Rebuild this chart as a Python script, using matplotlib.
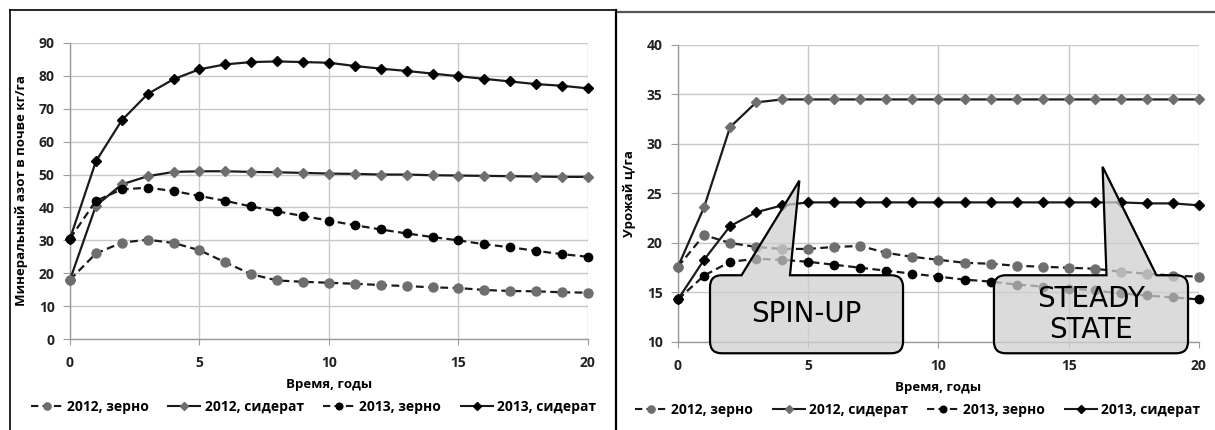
import matplotlib
matplotlib.use('Agg')
import matplotlib.pyplot as plt
from matplotlib.path import Path
from matplotlib.patches import PathPatch
from matplotlib.lines import Line2D

plt.rcParams['font.family'] = ['Open Sans', 'DejaVu Sans']

years = list(range(21))

# left panel: mineral nitrogen in soil, kg/ha
n_2012_grain = [18, 26, 29.3, 30.2, 29.2, 27, 23.3, 19.7, 17.8, 17.4, 17.1,
                16.8, 16.4, 16.1, 15.7, 15.5, 14.9, 14.6, 14.5, 14.2, 14.1]
n_2012_green = [18, 40.5, 47, 49.5, 50.8, 51, 51, 50.8, 50.7, 50.5, 50.3,
                50.2, 50, 50, 49.8, 49.7, 49.6, 49.5, 49.4, 49.3, 49.3]
n_2013_grain = [30.5, 42, 45.5, 46, 45, 43.5, 42, 40.3, 38.8, 37.4, 36,
                34.6, 33.3, 32.1, 31, 30, 28.8, 27.9, 26.8, 25.8, 25]
n_2013_green = [30.5, 54, 66.5, 74.5, 79, 82, 83.5, 84.2, 84.4, 84.2, 84,
                83, 82.2, 81.5, 80.7, 79.9, 79.1, 78.3, 77.5, 77, 76.2]

# right panel: yield, c/ha
y_2012_grain = [17.6, 20.8, 20.0, 19.6, 19.4, 19.4, 19.6, 19.7, 19.0, 18.6, 18.3,
                18.0, 17.9, 17.7, 17.6, 17.5, 17.4, 17.1, 16.9, 16.7, 16.6]
y_2012_green = [17.6, 23.6, 31.7, 34.2, 34.5, 34.5, 34.5, 34.5, 34.5, 34.5, 34.5,
                34.5, 34.5, 34.5, 34.5, 34.5, 34.5, 34.5, 34.5, 34.5, 34.5]
y_2013_grain = [14.3, 16.7, 18.1, 18.4, 18.3, 18.1, 17.8, 17.5, 17.2, 16.9, 16.6,
                16.3, 16.1, 15.8, 15.6, 15.4, 15.2, 14.9, 14.7, 14.5, 14.3]
y_2013_green = [14.3, 18.3, 21.7, 23.1, 23.8, 24.1, 24.1, 24.1, 24.1, 24.1, 24.1,
                24.1, 24.1, 24.1, 24.1, 24.1, 24.1, 24.1, 24.0, 24.0, 23.8]

labels = ['2012, зерно', '2012, сидерат', '2013, зерно', '2013, сидерат']

GRAY = '#6e6e6e'
LINE = '#1a1a1a'
styles = [
    dict(ls=(0, (3.5, 2)), marker='o', mfc=GRAY, mec=GRAY, ms=6.5),
    dict(ls='-', marker='D', mfc=GRAY, mec=GRAY, ms=5.5),
    dict(ls=(0, (3.5, 2)), marker='o', mfc='black', mec='black', ms=6),
    dict(ls='-', marker='D', mfc='black', mec='black', ms=5.5),
]


def callout(ax, x0, x1, y0, y1, bx0, bx1, tip, rx, ry, text):
    verts = [(x0 + rx, y0), (x1 - rx, y0), (x1, y0), (x1, y0 + ry),
             (x1, y1 - ry), (x1, y1), (x1 - rx, y1),
             (bx1, y1), tip, (bx0, y1),
             (x0 + rx, y1), (x0, y1), (x0, y1 - ry),
             (x0, y0 + ry), (x0, y0), (x0 + rx, y0), (x0 + rx, y0)]
    codes = [Path.MOVETO, Path.LINETO, Path.CURVE3, Path.CURVE3,
             Path.LINETO, Path.CURVE3, Path.CURVE3,
             Path.LINETO, Path.LINETO, Path.LINETO,
             Path.LINETO, Path.CURVE3, Path.CURVE3,
             Path.LINETO, Path.CURVE3, Path.CURVE3, Path.CLOSEPOLY]
    patch = PathPatch(Path(verts, codes), facecolor='#cfcfcf', alpha=0.75,
                      edgecolor='none', zorder=5, clip_on=False)
    ax.add_patch(patch)
    outline = PathPatch(Path(verts, codes), facecolor='none',
                        edgecolor='black', lw=1.6, zorder=6, clip_on=False)
    ax.add_patch(outline)
    ax.text((x0 + x1) / 2, (y0 + y1) / 2, text, ha='center', va='center',
            fontsize=20, family='DejaVu Sans', zorder=7, linespacing=1.15)


def setup(ax, ylim, ystep, ylabel):
    ax.set_xlim(0, 20)
    ax.set_ylim(ylim[0], ylim[1])
    ax.set_xticks([0, 5, 10, 15, 20])
    ax.set_yticks(range(ylim[0], ylim[1] + 1, ystep))
    ax.grid(True, color='#c8c8c8', lw=1.0)
    ax.set_axisbelow(True)
    for s in ['top', 'right']:
        ax.spines[s].set_visible(False)
    for s in ['left', 'bottom']:
        ax.spines[s].set_color('#9a9a9a')
        ax.spines[s].set_linewidth(1.0)
    ax.tick_params(axis='y', length=5, color='#9a9a9a', pad=6)
    ax.tick_params(axis='x', length=4, color='#9a9a9a', pad=8)
    for t in ax.get_xticklabels() + ax.get_yticklabels():
        t.set_fontweight('bold')
        t.set_fontsize(10)
        t.set_color('#222222')
    ax.set_xlabel('Время, годы', fontweight='bold', fontsize=9.5, labelpad=6)
    ax.set_ylabel(ylabel, fontweight='bold', fontsize=9.5, labelpad=8)


fig = plt.figure(figsize=(12.15, 4.3), dpi=100)
ax1 = fig.add_axes([0.0576, 0.2116, 0.4263, 0.6884])
ax2 = fig.add_axes([0.558, 0.2047, 0.4288, 0.6907])

for ax, series in [(ax1, [n_2012_grain, n_2012_green, n_2013_grain, n_2013_green]),
                   (ax2, [y_2012_grain, y_2012_green, y_2013_grain, y_2013_green])]:
    for vals, st, lab in zip(series, styles, labels):
        ax.plot(years, vals, color=LINE, lw=1.6, label=lab, zorder=3,
                clip_on=False, **st)

setup(ax1, (0, 90), 10, 'Минеральный азот в почве кг/га')
setup(ax2, (10, 40), 5, 'Урожай ц/га')

callout(ax2, 1.23, 8.64, 8.86, 16.74, 2.44, 4.30, (4.66, 26.3), 0.45, 1.2,
        'SPIN-UP')
callout(ax2, 12.13, 19.58, 8.86, 16.74, 16.45, 18.37, (16.3, 27.7), 0.45, 1.2,
        'STEADY\nSTATE')

# legends below each panel
for ax, dx in [(ax1, -0.03), (ax2, -0.04)]:
    handles = [Line2D([], [], color=LINE, lw=1.5, ls=st['ls'], marker=st['marker'],
                      mfc=st['mfc'], mec=st['mec'], ms=st['ms'] * 0.8)
               for st in styles]
    ax.legend(handles, labels, loc='center', ncol=4,
              bbox_to_anchor=(0.5 + dx, -0.23), frameon=False,
              handlelength=2.3, columnspacing=1.4, handletextpad=0.3,
              prop={'size': 10, 'weight': 'bold'})

# panel borders
fig.add_artist(Line2D([10 / 1215, 10 / 1215], [0, 1 - 10 / 430], color='black',
                      lw=1.2, transform=fig.transFigure))
fig.add_artist(Line2D([10 / 1215, 616 / 1215], [1 - 10 / 430, 1 - 10 / 430],
                      color='black', lw=1.2, transform=fig.transFigure))
fig.add_artist(Line2D([616 / 1215, 616 / 1215], [0, 1 - 10 / 430], color='black',
                      lw=1.6, transform=fig.transFigure))
fig.add_artist(Line2D([618 / 1215, 1], [1 - 12 / 430, 1 - 12 / 430],
                      color='#555555', lw=1.6, transform=fig.transFigure))

fig.savefig('out.png', dpi=100)
